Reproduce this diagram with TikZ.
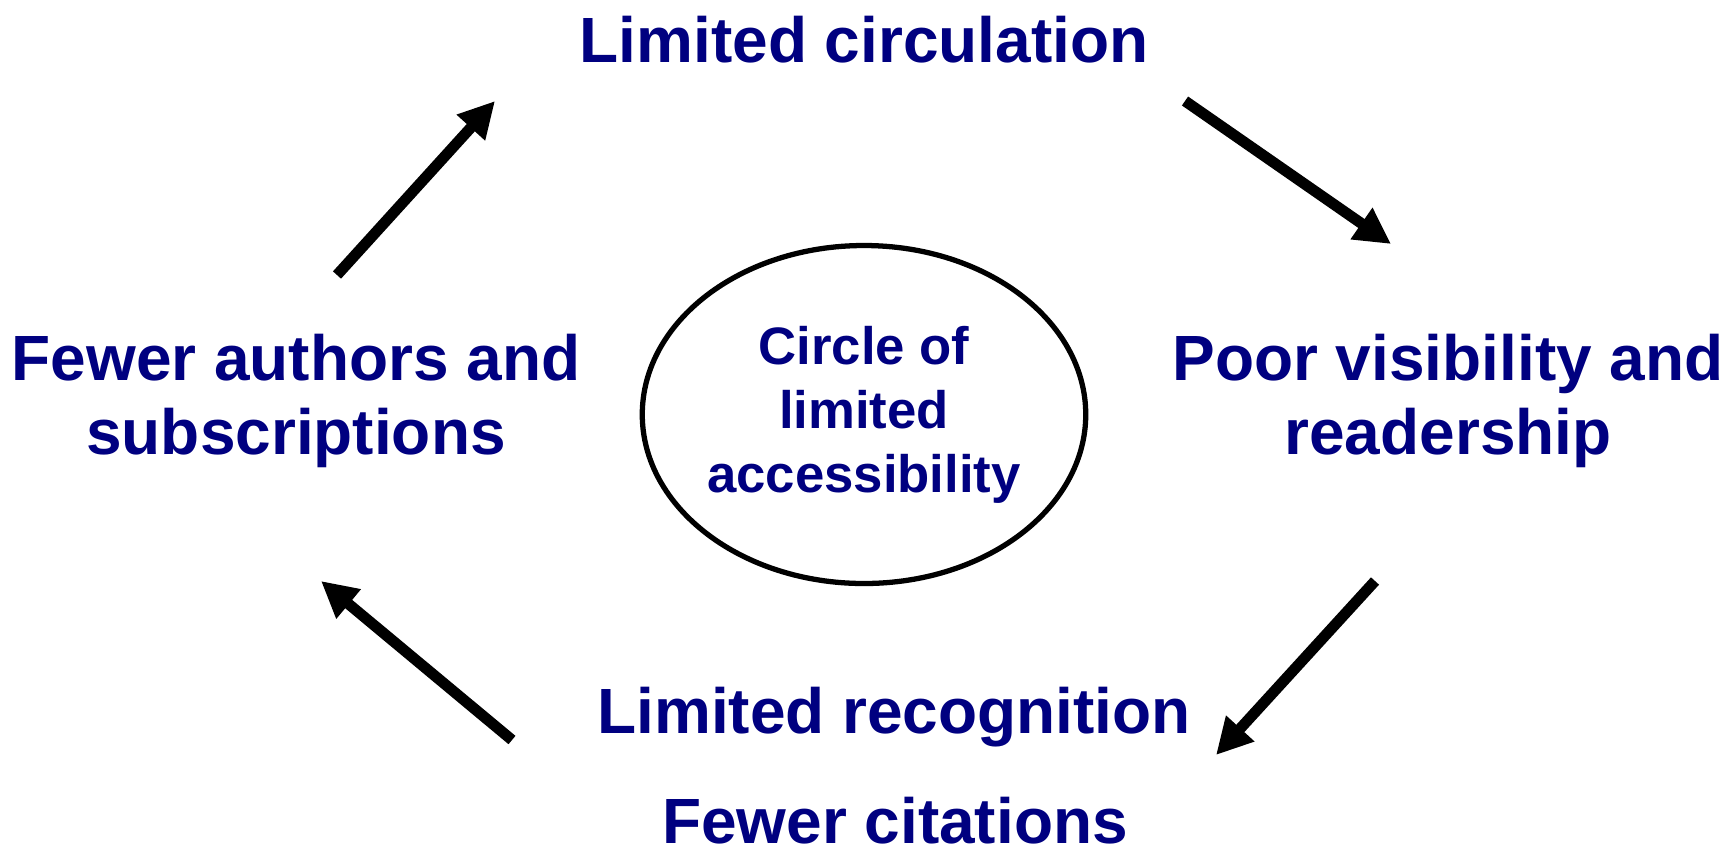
\documentclass[tikz,border=0pt]{standalone}
\usepackage{fontspec}
\setmainfont{Liberation Sans}
\usetikzlibrary{shapes.geometric,arrows.meta}
\definecolor{cyclefg}{HTML}{000080}
\tikzset{
  stage/.style={font=\bfseries\fontsize{18.2}{21}\selectfont, text=cyclefg,
    align=center, inner sep=0pt, anchor=base},
  cyclearrow/.style={line width=3.1pt, -{Triangle[length=0.36cm,width=0.36cm]}},
}

\begin{document}
\begin{tikzpicture}
        \useasboundingbox (0,0) rectangle (17.36,-8.51);

        % the four stages round the circle
        \node (circ) [stage] at (8.64,-0.62) {Limited circulation};
        \node (vis) [stage] at (14.48,-4.54) {Poor visibility and\\readership};
        \node (recog) [stage] at (8.94,-7.33) {Limited recognition};
        \node (cite) [stage] at (8.95,-8.43) {Fewer citations};
        \node (auth) [stage] at (2.96,-4.54) {Fewer authors and\\subscriptions};

        \node (core) [draw, line width=1.5pt, ellipse, minimum width=4.32cm, minimum height=3.38cm,
                inner sep=0pt, text=cyclefg, align=center,
                font=\bfseries\fontsize{15}{18.2}\selectfont] at (8.64,-4.145)
                {Circle of\\limited\\accessibility};

        % arrow ends
        \coordinate (a1) at (3.37,-2.75);  \coordinate (b1) at (4.95,-1.01);
        \coordinate (a2) at (11.85,-1.01); \coordinate (b2) at (13.91,-2.44);
        \coordinate (a3) at (13.75,-5.81); \coordinate (b3) at (12.16,-7.55);
        \coordinate (a4) at (5.12,-7.40);  \coordinate (b4) at (3.21,-5.81);

        \draw[cyclearrow] (a1) -- (b1);
        \draw[cyclearrow] (a2) -- (b2);
        \draw[cyclearrow] (a3) -- (b3);
        \draw[cyclearrow] (a4) -- (b4);
\end{tikzpicture}
\end{document}
